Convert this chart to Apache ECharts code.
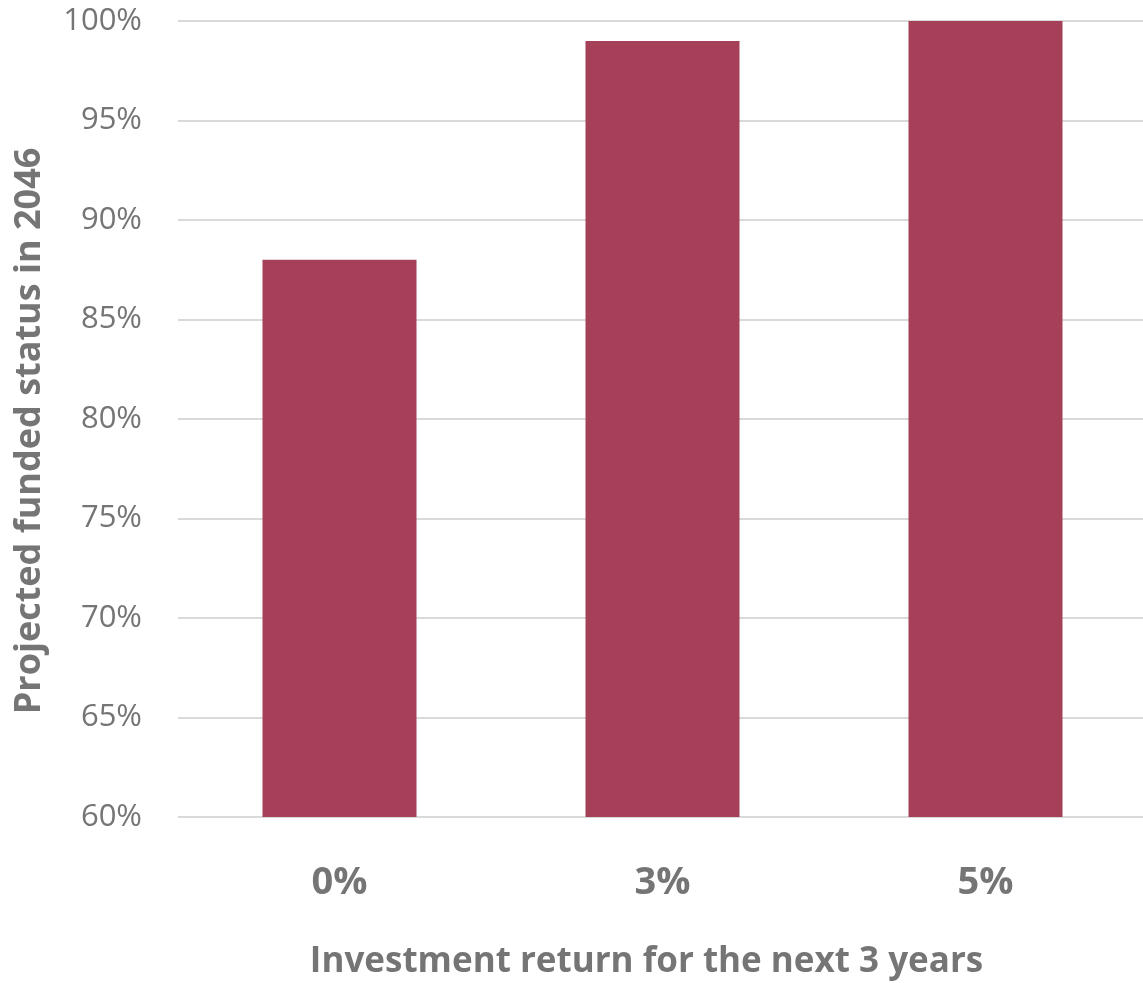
<!DOCTYPE html>
<html><head><meta charset="utf-8">
<script src="https://cdn.jsdelivr.net/npm/echarts@6/dist/echarts.min.js"></script>
<style>html,body{margin:0;padding:0;background:#fff;overflow:hidden}#c{width:1143px;height:983px}</style>
</head><body><div id="c"></div>
<script>
const categories = ['0%', '3%', '5%'];
const fundedStatus = [88, 99, 100];
const yMin = 60, yMax = 100, yStep = 5;

const chart = echarts.init(document.getElementById('c'), null, {renderer: 'canvas'});
chart.setOption({
  animation: false,
  backgroundColor: '#ffffff',
  grid: {left: 178, right: -4, top: 21, height: 796, containLabel: false, outerBoundsMode: 'none'},
  xAxis: {
    type: 'category',
    data: categories,
    name: 'Investment return for the next 3 years',
    nameLocation: 'middle',
    nameGap: 128,
    nameTextStyle: {fontFamily: 'Open Sans', fontWeight: 'bold', fontSize: 35, color: '#757575', padding: [0, 32, 0, 0]},
    axisLine: {show: false},
    axisTick: {show: false},
    axisLabel: {margin: 47, fontFamily: 'Open Sans', fontWeight: 'bold', fontSize: 38, color: '#757575'}
  },
  yAxis: {
    type: 'value',
    min: yMin, max: yMax, interval: yStep,
    name: 'Projected funded status in 2046',
    nameLocation: 'middle',
    nameGap: 130,
    nameTextStyle: {fontFamily: 'Open Sans', fontWeight: 'bold', fontSize: 36, color: '#757575', padding: [0, 24, 0, 0]},
    axisLine: {show: false},
    axisTick: {show: false},
    splitLine: {lineStyle: {color: '#d9d9d9', width: 2}},
    axisLabel: {margin: 36, fontFamily: 'Open Sans', fontSize: 31, color: '#757575', formatter: v => v + '%'}
  },
  series: [{
    type: 'bar',
    data: fundedStatus,
    barWidth: 154,
    itemStyle: {color: '#a63f58'}
  }]
});
</script></body></html>
